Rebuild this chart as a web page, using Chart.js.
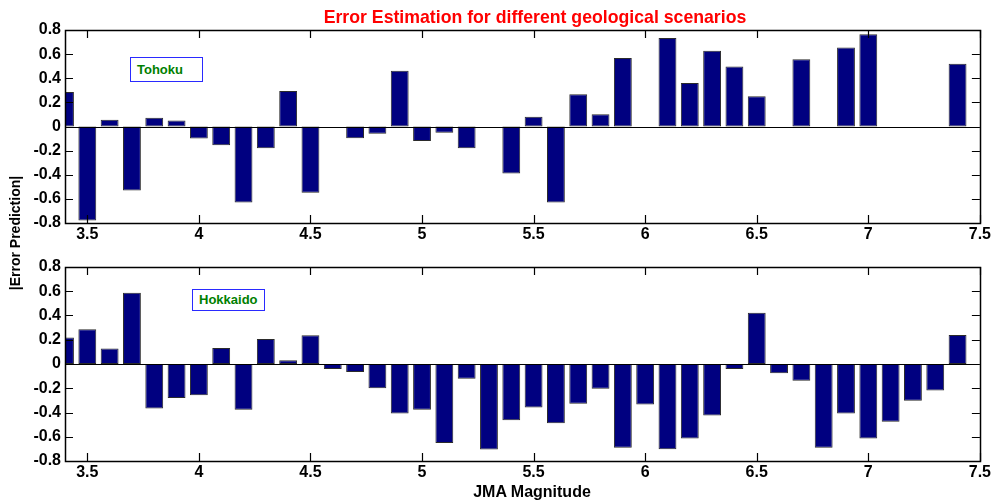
<!DOCTYPE html>
<html><head><meta charset="utf-8">
<script src="https://cdn.jsdelivr.net/npm/chart.js@4.4.1/dist/chart.umd.min.js"></script>
<style>
html,body{margin:0;padding:0;background:#fff;width:993px;height:502px;overflow:hidden;font-family:"Liberation Sans",Arial,Helvetica,sans-serif;}
#wrap{position:relative;width:993px;height:502px;}
#wrap canvas{position:absolute;left:0;}
.t{position:absolute;font-weight:bold;white-space:nowrap;}
#title{left:235px;width:600px;top:6px;text-align:center;color:#ff0000;font-size:17.7px;line-height:22px;}
#ylab{left:-85px;width:200px;top:224px;height:18px;line-height:18px;text-align:center;font-size:14px;color:#000;transform:rotate(-90deg);}
#xlab{left:432px;width:200px;top:482px;text-align:center;font-size:16px;line-height:20px;color:#000;}
.box{position:absolute;border:1px solid #2a2aff;background:#fff;color:#008000;font-weight:bold;font-size:13px;box-sizing:border-box;}
#box1{left:130px;top:57px;width:73px;height:25px;line-height:23px;padding-left:6px;}
#box2{left:192px;top:289px;width:73px;height:22px;line-height:20px;padding-left:6px;}
</style>
</head><body>
<div id="wrap">
  <canvas id="c1" width="993" height="250" style="top:0px;width:993px;height:250px"></canvas>
  <canvas id="c2" width="993" height="252" style="top:250px;width:993px;height:252px"></canvas>
  <div class="t" id="title">Error Estimation for different geological scenarios</div>
  <div class="t" id="ylab">|Error Prediction|</div>
  <div class="t" id="xlab">JMA Magnitude</div>
  <div class="box" id="box1">Tohoku</div>
  <div class="box" id="box2">Hokkaido</div>
</div>
<script>
const magnitudes = [3.4,3.5,3.6,3.7,3.8,3.9,4.0,4.1,4.2,4.3,4.4,4.5,4.6,4.7,4.8,4.9,5.0,5.1,5.2,5.3,5.4,5.5,5.6,5.7,5.8,5.9,6.0,6.1,6.2,6.3,6.4,6.5,6.6,6.7,6.8,6.9,7.0,7.1,7.2,7.3,7.4];
const tohokuErrors = [0.287,-0.78,0.055,-0.53,0.072,0.05,-0.10,-0.155,-0.63,-0.18,0.295,-0.55,0,-0.097,-0.06,0.463,-0.12,-0.052,-0.18,0,-0.389,0.08,-0.63,0.268,0.102,0.568,0,0.734,0.361,0.629,0.497,0.251,0,0.557,0,0.654,0.764,0,0,0,0.521];
const hokkaidoErrors = [0.218,0.287,0.127,0.588,-0.367,-0.281,-0.257,0.132,-0.378,0.207,0.03,0.237,-0.041,-0.066,-0.201,-0.408,-0.378,-0.651,-0.121,-0.706,-0.463,-0.359,-0.488,-0.328,-0.204,-0.690,-0.334,-0.703,-0.615,-0.425,-0.041,0.422,-0.077,-0.138,-0.690,-0.408,-0.615,-0.477,-0.303,-0.218,0.240];
const xTickValues = [3.5,4,4.5,5,5.5,6,6.5,7,7.5];
const yTickValues = [-0.8,-0.6,-0.4,-0.2,0,0.2,0.4,0.6,0.8];

const tickFont = {family:'"Liberation Sans", Arial, sans-serif', size:16, weight:'bold'};

const matlabAxes = {
  id:'matlabAxes',
  afterDatasetsDraw(chart){
    const {ctx, chartArea:a} = chart;
    const xs = chart.scales.x, ys = chart.scales.y;
    const L = 8;
    ctx.save();
    ctx.strokeStyle = '#000';
    ctx.lineWidth = 1.2;
    ctx.beginPath();
    const y0 = Math.round(ys.getPixelForValue(0)) + 0.5;
    ctx.moveTo(a.left, y0); ctx.lineTo(a.right, y0);
    xTickValues.forEach(v => {
      const px = Math.round(xs.getPixelForValue(v)) + 0.5;
      ctx.moveTo(px, a.top); ctx.lineTo(px, a.top + L);
      ctx.moveTo(px, a.bottom); ctx.lineTo(px, a.bottom - L);
    });
    yTickValues.forEach(v => {
      const py = Math.round(ys.getPixelForValue(v)) + 0.5;
      ctx.moveTo(a.left, py); ctx.lineTo(a.left + L, py);
      ctx.moveTo(a.right, py); ctx.lineTo(a.right - L, py);
    });
    ctx.stroke();
    ctx.lineWidth = 1.5;
    ctx.strokeRect(Math.round(a.left)+0.5, Math.round(a.top)+0.5, Math.round(a.right - a.left), Math.round(a.bottom - a.top));
    ctx.restore();
  }
};

function makeChart(id, values, padTop, xHeight){
  return new Chart(document.getElementById(id), {
    type:'bar',
    data:{datasets:[{
      data: magnitudes.map((m,i)=>({x:m, y:values[i]})),
      backgroundColor:'#000080',
      borderColor:'#2b2b2b',
      borderWidth:1,
      borderSkipped:false,
      barPercentage:0.8,
      categoryPercentage:1.0,
      clip:0
    }]},
    options:{
      responsive:false, animation:false, devicePixelRatio:1,
      layout:{padding:{left:0,right:12,top:padTop,bottom:0}},
      plugins:{legend:{display:false},tooltip:{enabled:false},title:{display:false}},
      scales:{
        x:{type:'linear', min:3.4, max:7.5, offset:false,
           grid:{display:false, drawTicks:false}, border:{display:false},
           afterBuildTicks(s){ s.ticks = xTickValues.map(v=>({value:v})); },
           afterFit(s){ s.height = xHeight; },
           ticks:{font:tickFont, color:'#000', padding:2, maxRotation:0, autoSkip:false, callback:v=>String(v)}},
        y:{min:-0.8, max:0.8,
           grid:{display:false, drawTicks:false}, border:{display:false},
           afterBuildTicks(s){ s.ticks = yTickValues.map(v=>({value:v})); },
           afterFit(s){ s.width = 65; },
           ticks:{font:tickFont, color:'#000', padding:4, autoSkip:false, callback:v=>String(v)}}
      }
    },
    plugins:[matlabAxes]
  });
}
makeChart('c1', tohokuErrors, 30, 27);
makeChart('c2', hokkaidoErrors, 17, 41);
</script>
</body></html>
